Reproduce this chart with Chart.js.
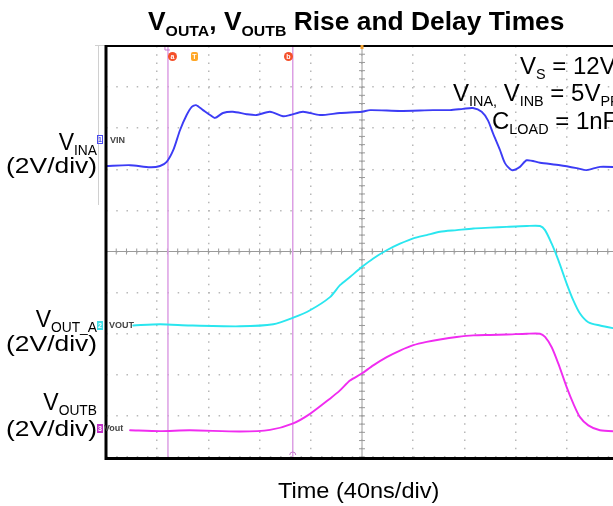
<!DOCTYPE html>
<html><head><meta charset="utf-8">
<script src="https://cdn.jsdelivr.net/npm/chart.js@4.4.1/dist/chart.umd.min.js"></script>
<style>
html,body{margin:0;padding:0;background:#fff;overflow:hidden;width:613px;height:506px;position:relative;}
#wrap{position:absolute;left:0;top:0;width:640px;height:506px;}
canvas{position:absolute;left:0;top:0;}
.t{position:absolute;font-family:"Liberation Sans",Arial,Helvetica,sans-serif;color:#000;white-space:nowrap;line-height:1;}
.t sub{font-size:0.6em;vertical-align:baseline;position:relative;top:0.38em;}
.r{text-align:right;}
.ch{position:absolute;font-family:"Liberation Sans",Arial,sans-serif;font-size:9px;font-weight:bold;line-height:9px;}
.box{position:absolute;width:6px;height:9px;font-family:"Liberation Sans",Arial,sans-serif;font-size:7px;line-height:9px;text-align:center;font-weight:bold;}
.mk{position:absolute;width:9px;height:9px;border-radius:50%;background:#f5502a;color:#fff;font-family:"Liberation Sans",Arial,sans-serif;font-size:7px;line-height:9px;text-align:center;font-weight:bold;}
</style></head><body>
<div id="wrap"><canvas id="c" width="640" height="506"></canvas></div>

<div class="t" style="left:148px;top:9px;font-size:25px;font-weight:bold;transform:scaleX(1.055);transform-origin:left;">V<sub>OUTA</sub>, V<sub>OUTB</sub> Rise and Delay Times</div>

<div class="t r" style="left:0;width:97px;top:130.5px;font-size:23px;">V<sub>INA</sub></div>
<div class="t r" style="left:0;width:97px;top:155px;font-size:22px;transform:scaleX(1.2);transform-origin:right;">(2V/div)</div>
<div class="t r" style="left:0;width:97px;top:307.5px;font-size:23px;">V<sub>OUT_A</sub></div>
<div class="t r" style="left:0;width:97px;top:333px;font-size:22px;transform:scaleX(1.2);transform-origin:right;">(2V/div)</div>
<div class="t r" style="left:0;width:97px;top:390.5px;font-size:23px;">V<sub>OUTB</sub></div>
<div class="t r" style="left:0;width:97px;top:418px;font-size:22px;transform:scaleX(1.2);transform-origin:right;">(2V/div)</div>

<div class="t" style="left:520px;top:53.7px;font-size:24px;">V<sub>S</sub> = 12V</div>
<div class="t" style="left:453px;top:80.7px;font-size:24px;">V<sub>INA,</sub> V<sub>INB</sub> = 5V<sub>PP</sub></div>
<div class="t" style="left:492px;top:108.7px;font-size:24px;">C<sub>LOAD</sub> = 1nF</div>

<div class="t" style="left:278px;top:480px;font-size:22px;transform:scaleX(1.07);transform-origin:left;">Time (40ns/div)</div>

<div class="box" style="left:97px;top:135px;border:1px solid #4a4af0;width:4px;height:7px;line-height:7px;color:#4a4af0;">1</div>
<div class="ch" style="left:110px;top:136px;color:#444;">VIN</div>
<div class="box" style="left:97px;top:321px;background:#3fe0e8;color:#fff;">2</div>
<div class="ch" style="left:109px;top:321px;color:#444;">VOUT</div>
<div class="box" style="left:97px;top:424px;background:#c030c8;color:#fff;">3</div>
<div class="ch" style="left:104px;top:424px;color:#444;">Vout</div>

<div class="mk" style="left:168px;top:52px;">a</div>
<div class="mk" style="left:191px;top:52px;width:7px;border-radius:2px;background:#ffa726;">T</div>
<div class="mk" style="left:284px;top:52px;">b</div>

<script>
// time in ns (40 ns/div), level in screen divisions (0 = bottom graticule, 10 = top)
const vinTime = [0,18.8,34.4,42.2,47.4,52.6,57.8,63.0,67.0,70.3,75.8,81.3,85.2,91.4,99.2,109.9,117.7,128.1,138.3,143.8,153.9,167.2,182.8,199.8,206.3,229.7,255.5,268.8,278.9,286.7,293.5,298.4,302.3,307.8,311.7,317.0,323.4,328.7,339.1,354.7,367.7,375.5,385.9,400];
const vinDiv  = [7.08,7.10,7.05,7.08,7.18,7.47,7.95,8.32,8.52,8.56,8.44,8.32,8.25,8.37,8.40,8.34,8.32,8.40,8.29,8.32,8.40,8.32,8.37,8.40,8.44,8.42,8.44,8.44,8.47,8.49,8.40,8.19,7.88,7.47,7.15,6.98,7.06,7.22,7.16,7.10,7.03,6.98,7.06,7.05];

const voutATime = [21.3,42.2,65.6,104.7,130.7,146.3,159.4,175.0,182.8,190.6,199.8,208.8,219.3,229.7,240.1,250.5,260.9,274.0,287.0,300.0,313.0,328.7,339.1,343.0,348.2,353.4,359.9,365.1,370.3,376.8,385.9,400];
const voutADiv  = [3.20,3.23,3.20,3.18,3.23,3.39,3.57,3.89,4.18,4.38,4.62,4.83,5.03,5.19,5.32,5.40,5.48,5.52,5.56,5.58,5.60,5.62,5.62,5.52,5.19,4.79,4.22,3.81,3.49,3.28,3.20,3.11];

const voutBTime = [18.8,42.2,65.6,104.7,128.1,146.3,159.4,175.0,182.8,190.6,199.8,208.8,219.3,229.7,240.1,250.5,260.9,274.0,287.0,300.0,313.0,328.7,339.1,343.0,348.2,353.4,359.9,365.1,370.3,376.8,385.9,400];
const voutBDiv  = [0.65,0.63,0.65,0.62,0.66,0.82,1.05,1.42,1.62,1.86,2.03,2.23,2.43,2.59,2.72,2.80,2.86,2.92,2.96,2.97,2.98,3.00,3.00,2.92,2.67,2.27,1.70,1.30,0.97,0.77,0.65,0.62];

const cursorTimes = [48.4, 145.9];   // cursor a, cursor b
const timeRange = [0, 400];          // 10 divisions x 40 ns
const divRange  = [0, 10];           // 10 vertical divisions
const timePerDiv = 40;

const pts = (xs, ys) => xs.map((x, i) => ({x, y: ys[i]}));

const scopeDecor = {
  id: 'scopeDecor',
  beforeDatasetsDraw(chart) {
    const {ctx, chartArea: a, scales: {x, y}} = chart;
    ctx.save();
    ctx.strokeStyle = '#d0d0d0'; ctx.lineWidth = 1;
    ctx.beginPath(); ctx.moveTo(95, 45.5); ctx.lineTo(a.left, 45.5);
    ctx.moveTo(98.5, 45); ctx.lineTo(98.5, 205); ctx.stroke();
    const cx = x.getPixelForValue((timeRange[0] + timeRange[1]) / 2);
    const cy = y.getPixelForValue((divRange[0] + divRange[1]) / 2);
    ctx.strokeStyle = '#9a9a9a'; ctx.lineWidth = 1;
    ctx.beginPath();
    ctx.moveTo(a.left, cy); ctx.lineTo(a.right, cy);
    ctx.moveTo(cx, a.top); ctx.lineTo(cx, a.bottom);
    for (let t = timeRange[0]; t <= timeRange[1]; t += timePerDiv / 5) {
      const px = x.getPixelForValue(t);
      ctx.moveTo(px, cy - 3); ctx.lineTo(px, cy + 3);
    }
    for (let d = divRange[0]; d <= divRange[1] + 1e-6; d += 0.2) {
      const py = y.getPixelForValue(d);
      ctx.moveTo(cx - 3, py); ctx.lineTo(cx + 3, py);
    }
    ctx.stroke();
    ctx.restore();
  },
  afterDatasetsDraw(chart) {
    const {ctx, chartArea: a, scales: {x, y}} = chart;
    ctx.save();
    ctx.strokeStyle = '#000';
    ctx.lineWidth = 3;
    ctx.beginPath();
    ctx.moveTo(a.left, a.top - 1); ctx.lineTo(a.left, a.bottom + 1.5);
    ctx.lineTo(a.right + 5, a.bottom + 1.5);
    ctx.stroke();
    ctx.lineWidth = 2;
    ctx.beginPath(); ctx.moveTo(a.left, a.top); ctx.lineTo(a.right + 5, a.top); ctx.stroke();
    const cx = x.getPixelForValue((timeRange[0] + timeRange[1]) / 2);
    ctx.fillStyle = '#f0a030';
    ctx.fillRect(cx - 1.5, a.top - 1, 3, 4);
    const bx = x.getPixelForValue(cursorTimes[1]);
    ctx.strokeStyle = '#c878d0'; ctx.lineWidth = 1;
    ctx.beginPath(); ctx.arc(bx, a.bottom - 2, 3, Math.PI, 2 * Math.PI); ctx.stroke();
    const ax = x.getPixelForValue(cursorTimes[0]);
    ctx.beginPath(); ctx.moveTo(ax - 3, a.top + 1); ctx.lineTo(ax - 3, a.top + 4); ctx.lineTo(ax + 2, a.top + 4); ctx.stroke();
    ctx.restore();
  }
};

new Chart(document.getElementById('c'), {
  type: 'line',
  data: {
    datasets: [
      {label: 'VIN', data: pts(vinTime, vinDiv), borderColor: '#3c3cf5', borderWidth: 1.9, order: 1},
      {label: 'VOUT_A', data: pts(voutATime, voutADiv), borderColor: '#2ae6ef', borderWidth: 1.9, order: 1},
      {label: 'VOUT_B', data: pts(voutBTime, voutBDiv), borderColor: '#f02cf0', borderWidth: 1.9, order: 1},
      {label: 'cursor a', data: [{x: cursorTimes[0], y: divRange[0]}, {x: cursorTimes[0], y: divRange[1]}], borderColor: '#dc9fe4', borderWidth: 1.5, order: 5},
      {label: 'cursor b', data: [{x: cursorTimes[1], y: divRange[0]}, {x: cursorTimes[1], y: divRange[1]}], borderColor: '#dc9fe4', borderWidth: 1.5, order: 5}
    ]
  },
  options: {
    responsive: false,
    animation: false,
    devicePixelRatio: 1,
    layout: {padding: {left: 106, top: 46, right: 22, bottom: 49}},
    elements: {point: {radius: 0}, line: {tension: 0.25, borderCapStyle: 'round'}},
    plugins: {legend: {display: false}, tooltip: {enabled: false}, title: {display: false}},
    scales: {
      x: {type: 'linear', min: timeRange[0], max: timeRange[1],
          ticks: {display: false, stepSize: timePerDiv},
          grid: {drawTicks: false, color: '#b8b8b8', lineWidth: 1.5},
          border: {display: false, dash: [1.5, 6.7]}},
      y: {type: 'linear', min: divRange[0], max: divRange[1],
          ticks: {display: false, stepSize: 1},
          grid: {drawTicks: false, color: '#b8b8b8', lineWidth: 1.5},
          border: {display: false, dash: [1.5, 8.74]}}
    }
  },
  plugins: [scopeDecor]
});
</script>
</body></html>
